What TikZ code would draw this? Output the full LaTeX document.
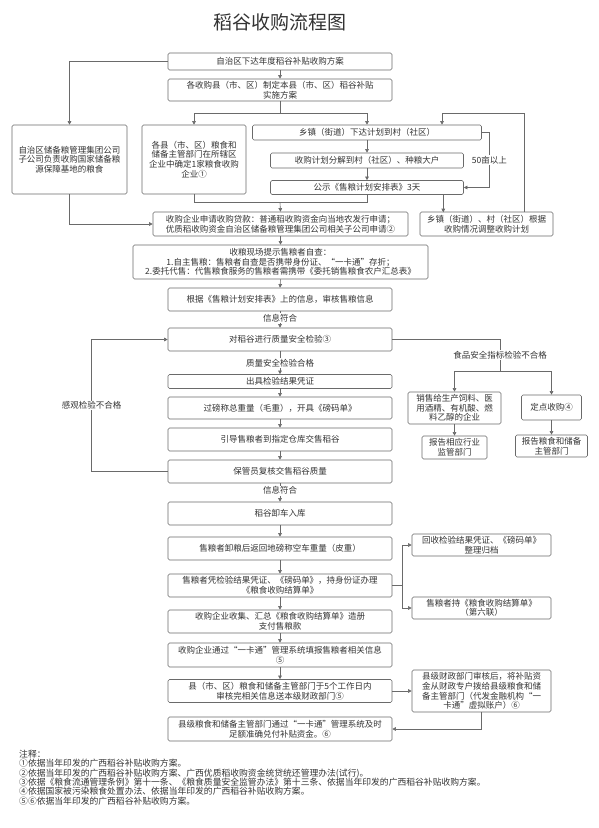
\documentclass[tikz,border=0pt]{standalone}
\usepackage{fontspec}
\setmainfont{Noto Sans CJK SC}
\usepackage{xcolor}
\usepackage{tikz}
\usetikzlibrary{arrows.meta}
\definecolor{ink}{HTML}{333333}
\definecolor{edge}{HTML}{6A6A6A}

\begin{document}
\begin{tikzpicture}[x=1pt,y=-1pt,
  box/.style 2 args={draw=edge,line width=0.6pt,rounded corners=1.5pt,align=center,inner sep=0pt,
    text=ink,font=\fontsize{8.5}{9.6}\selectfont,minimum width=#1pt,minimum height=#2pt},
  ln/.style={draw=edge,line width=0.6pt},
  arr/.style={ln,-{Triangle[length=3.6pt,width=3.6pt]}},
  lbl/.style={fill=white,inner sep=1pt,text=ink,font=\fontsize{8.5}{9.6}\selectfont}]
  \useasboundingbox (0,0) rectangle (599,828);
  \node[text=ink,font=\fontsize{19}{22}\selectfont] (title) at (280,22) {稻谷收购流程图};
  % top part
  \node[box={224}{17}] (plan) at (280,61.5) {自治区下达年度稻谷补贴收购方案};
  \node[box={224}{22}] (scheme) at (280,90) {各收购县（市、区）制定本县（市、区）稻谷补贴\\实施方案};
  \node[box={115}{69}] (reserve) at (69.5,159.5) {自治区储备粮管理集团公司\\子公司负责收购国家储备粮\\源保障基地的粮食};
  \node[box={104}{69}] (county) at (194,159.5) {各县（市、区）粮食和\\储备主管部门在所辖区\\企业中确定1家粮食收购\\企业①};
  \node[box={229}{15}] (town) at (367,132.5) {乡镇（街道）下达计划到村（社区）};
  \node[box={193}{15}] (split) at (367,160.5) {收购计划分解到村（社区）、种粮大户};
  \node[box={193}{14}] (publish) at (367,187.5) {公示《售粮计划安排表》3天};
  \node[box={133}{24}] (adjust) at (486.5,224) {乡镇（街道）、村（社区）根据\\收购情况调整收购计划};
  % main column
  \node[box={255}{24}] (loan) at (280.5,224) {收购企业申请收购贷款：普通稻收购资金向当地农发行申请；\\优质稻收购资金自治区储备粮管理集团公司相关子公司申请②};
  \node[box={295}{34}] (check) at (280.5,262) {收粮现场提示售粮者自查：\\1.自主售粮：售粮者自查是否携带身份证、“一卡通”存折；\\2.委托代售：代售粮食服务的售粮者需携带《委托销售粮食农户汇总表》};
  \node[box={224}{23}] (verify) at (280,299.5) {根据《售粮计划安排表》上的信息，审核售粮信息};
  \node[box={224}{23}] (inspect) at (280,339.5) {对稻谷进行质量安全检验③};
  \node[box={224}{14}] (cert) at (280,381.5) {出具检验结果凭证};
  \node[box={224}{22}] (weigh) at (280,408) {过磅称总重量（毛重），开具《磅码单》};
  \node[box={224}{23}] (guide) at (280,439.5) {引导售粮者到指定仓库交售稻谷};
  \node[box={224}{23}] (review) at (280,471.5) {保管员复核交售稻谷质量};
  \node[box={224}{23}] (unload) at (280,513.5) {稻谷卸车入库};
  \node[box={224}{23}] (tare) at (280,548.5) {售粮者卸粮后返回地磅称空车重量（皮重）};
  \node[box={224}{23}] (settle) at (280,585.5) {售粮者凭检验结果凭证、《磅码单》，持身份证办理\\《粮食收购结算单》};
  \node[box={224}{23}] (pay) at (280,621.5) {收购企业收集、汇总《粮食收购结算单》造册\\支付售粮款};
  \node[box={224}{24}] (report) at (280,655) {收购企业通过“一卡通”管理系统填报售粮者相关信息\\⑤};
  \node[box={224}{23}] (audit) at (280,691) {县（市、区）粮食和储备主管部门于5个工作日内\\审核完相关信息送本级财政部门⑤};
  \node[box={224}{24}] (fund) at (280,729) {县级粮食和储备主管部门通过“一卡通”管理系统及时\\足额准确兑付补贴资金。⑥};
  % right side
  \node[box={93}{32}] (sell) at (454.5,408) {销售给生产饲料、医\\用酒精、有机酸、燃\\料乙醇的企业};
  \node[box={65}{23}] (sellrep) at (454.5,447.5) {报告相应行业\\监管部门};
  \node[box={60}{25}] (point) at (551.5,407.5) {定点收购④};
  \node[box={72}{22}] (pointrep) at (551.5,446) {报告粮食和储备\\主管部门};
  \node[box={139}{22}] (archive) at (481.5,545) {回收检验结果凭证、《磅码单》\\整理归档};
  \node[box={139}{22}] (receipt) at (481.5,608) {售粮者持《粮食收购结算单》\\（第六联）};
  \node[box={139}{42}] (finance) at (481.5,691) {县级财政部门审核后，将补贴资\\金从财政专户拨给县级粮食和储\\备主管部门（代发金融机构“一\\卡通”虚拟账户）⑥};
  % notes
  \node[anchor=north west,align=left,inner sep=0pt,text=ink,font=\fontsize{8.8}{9.3}\selectfont] (notes) at (19,750) {注释：\\①依据当年印发的广西稻谷补贴收购方案。\\②依据当年印发的广西稻谷补贴收购方案、广西优质稻收购资金统贷统还管理办法(试行)。\\③依据《粮食流通管理条例》第十一条、《粮食质量安全监管办法》第十三条、依据当年印发的广西稻谷补贴收购方案。\\④依据国家被污染粮食处置办法、依据当年印发的广西稻谷补贴收购方案。\\⑤⑥依据当年印发的广西稻谷补贴收购方案。};
  % connectors
  \foreach \a/\b in {plan/scheme,town/split,split/publish,loan/check,check/verify,cert/weigh,weigh/guide,guide/review,
    unload/tare,tare/settle,settle/pay,pay/report,report/audit,sell/sellrep,point/pointrep}
    \draw[arr] (\a.south) -- (\b.north);
  \coordinate (fork) at (280,113);
  \coordinate (back) at (442,113);
  \coordinate (join) at (280,202.5);
  \coordinate (bad) at (500,371);
  \coordinate (hub) at (402,585.5);
  \draw[arr] (plan.west) -| (reserve.north);
  \draw[arr] (reserve.south) |- (loan.west);
  \draw[ln] (scheme.south) -- (fork);
  \draw[arr] (fork) -| (county.north);
  \draw[arr] (fork) -| (town.north);
  \draw[ln] (county.south) |- (join);
  \draw[ln] (publish.south) |- (join);
  \draw[arr] (join) -- (loan.north);
  \draw[arr] (town.east) -- ++(7.5,0) |- node[lbl,pos=0.25] {50亩以上} (publish.east);
  \draw[arr] ([xshift=-20.5pt]publish.south east) -- ++(0,17.5);
  \draw[arr] ([xshift=38pt]adjust.north) |- (back) -- (back |- town.north);
  \draw[arr] (verify.south) -- node[lbl,pos=0.4] {信息符合} (inspect.north);
  \draw[arr] (inspect.south) -- node[lbl,pos=0.5] {质量安全检验合格} (cert.north);
  \draw[arr] (review.south) -- node[lbl,pos=0.4] {信息符合} (unload.north);
  \draw[arr] (review.west) -- ++(-76,0) |- node[lbl,pos=0.25] {感观检验不合格} (inspect.west);
  \draw[ln] (inspect.east) -| node[lbl,pos=0.75] {食品安全指标检验不合格} (bad);
  \draw[arr] (bad) -| (sell.north);
  \draw[arr] (bad) -| (point.north);
  \draw[ln] (settle.east) -- (hub);
  \draw[arr] (hub) |- (archive.west);
  \draw[arr] (hub) |- (receipt.west);
  \draw[arr] (audit.east) -- (finance.west);
  \draw[arr] (finance.south) |- (fund.east);
\end{tikzpicture}
\end{document}
